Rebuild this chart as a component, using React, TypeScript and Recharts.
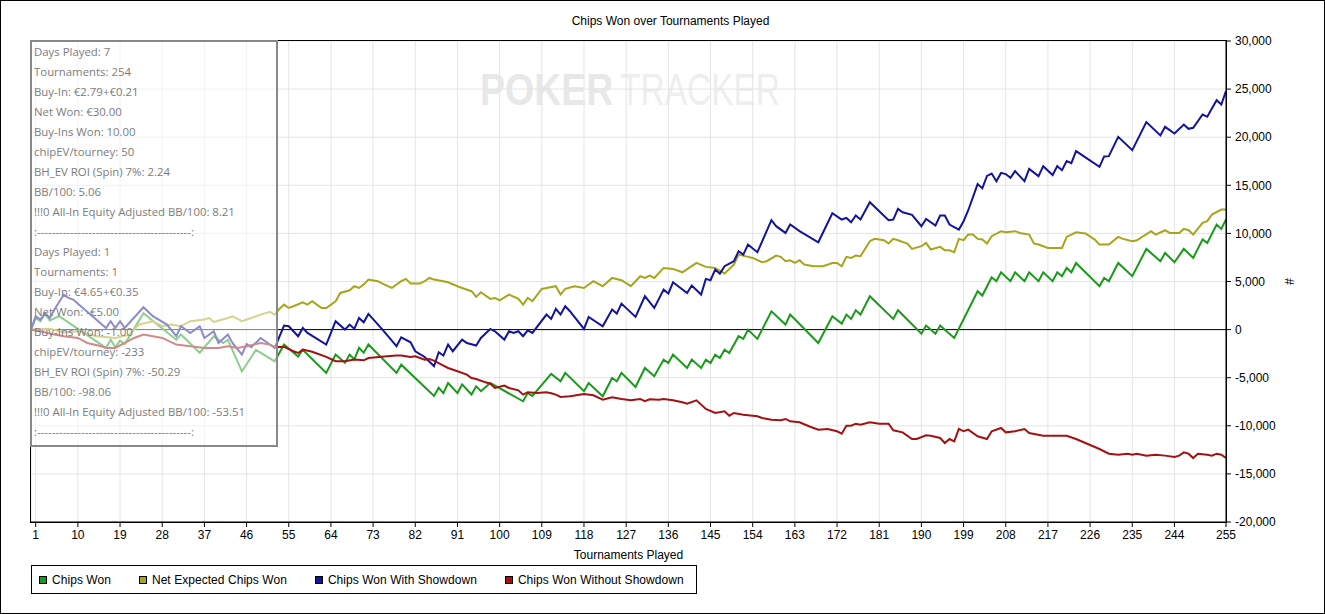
import React from 'react';
import { LineChart, Line, XAxis, YAxis, CartesianGrid, ReferenceLine } from 'recharts';

// [tournament, chips] turning points
const chipsWon: [number, number][] = [
  [0, 0], [1, 1200], [2, 850], [3, 1650], [4, 950], [6, 1400], [16, -1900], [17, -1050], [18, -1850],
  [19, -1150], [20, -1500], [24, 1700], [31, -1050], [32, -500], [36, -2400], [39, -700], [41, -1400],
  [42, -1050], [45, -4350], [48, -2100], [52, -3300], [54, -1550], [57, -2800], [58, -2100], [63, -4500],
  [65, -2600], [67, -3450], [68, -2600], [69, -3100], [70, -1900], [71, -2400], [72, -1550], [78, -4500],
  [79, -3650], [86, -6900], [87, -6050], [88, -6600], [89, -5550], [91, -6600], [92, -5700], [94, -6750],
  [95, -5900], [96, -6400], [98, -5550], [105, -7450], [106, -6600], [107, -6900], [111, -4600],
  [113, -5370], [114, -4500], [118, -6400], [119, -5550], [122, -6930], [124, -5030], [125, -5370],
  [126, -4500], [129, -5960], [131, -3990], [133, -4850], [135, -3120], [136, -3470], [137, -2600],
  [140, -3990], [141, -3120], [143, -3990], [144, -3120], [145, -3470], [146, -2600], [147, -2950],
  [148, -2080], [149, -2430], [151, -690], [152, -970], [153, 0], [155, -970], [158, 1900], [161, 520],
  [162, 1560], [168, -1390], [171, 1390], [173, 620], [174, 1560], [175, 1110], [176, 2010], [177, 1560],
  [179, 3470], [184, 1110], [185, 2010], [190, -420], [191, 420], [193, -420], [194, 420], [197, -870],
  [202, 3990], [203, 3540], [205, 5440], [206, 5030], [207, 5960], [209, 5030], [210, 5960], [212, 5030],
  [213, 5960], [215, 5030], [216, 5960], [218, 5030], [219, 5960], [220, 5550], [221, 6410], [222, 5960],
  [223, 6930], [228, 4510], [229, 5370], [230, 5030], [232, 6930], [235, 5550], [238, 8390], [241, 7110],
  [242, 7970], [244, 7000], [246, 8390], [248, 7450], [250, 9360], [251, 9010], [253, 10920],
  [254, 10470], [255, 11440],
];

const netExpected: [number, number][] = [
  [0, 0], [4, 100], [7, -300], [10, -170], [14, -690], [18, -870], [21, -520], [23, 520], [26, 870],
  [28, 350], [30, 520], [32, 350], [34, 870], [37, 1040], [38, 1210], [39, 800], [42, 1210], [43, 1390],
  [45, 870], [47, 1210], [49, 1560], [51, 1850], [52, 1560], [53, 2150], [54, 2600], [55, 2250],
  [56, 2430], [58, 2840], [59, 2600], [60, 2950], [61, 2600], [62, 2250], [63, 2250], [65, 2950],
  [66, 3810], [68, 4090], [69, 4510], [70, 4330], [71, 4680], [72, 5200], [74, 5030], [75, 4780],
  [77, 4330], [79, 5030], [80, 5270], [81, 4780], [83, 4780], [84, 5030], [85, 5370], [86, 5200],
  [88, 5030], [89, 4920], [91, 4510], [92, 4330], [94, 3990], [95, 3400], [96, 3880], [98, 3190],
  [99, 3290], [100, 3050], [102, 3640], [104, 3190], [105, 2600], [106, 3290], [107, 2950], [109, 4230],
  [110, 4330], [112, 4510], [113, 3640], [114, 4230], [116, 4510], [118, 4330], [120, 5030], [122, 4510],
  [124, 5370], [126, 5130], [128, 4510], [130, 5550], [131, 5370], [132, 5620], [133, 5370], [135, 6410],
  [137, 6310], [139, 5960], [142, 6930], [144, 6520], [146, 6410], [148, 5820], [150, 6760], [151, 7800],
  [153, 7560], [154, 7450], [156, 7000], [157, 7110], [159, 7700], [160, 7560], [161, 7110], [162, 7210],
  [163, 6930], [164, 7210], [165, 6760], [167, 6590], [169, 6590], [171, 6930], [172, 6930], [173, 6590],
  [174, 7560], [175, 7450], [176, 7700], [177, 7630], [179, 9190], [180, 9430], [182, 9290], [183, 8950],
  [184, 9430], [185, 9290], [187, 8950], [188, 8390], [190, 8670], [191, 9010], [192, 8320], [194, 8600],
  [195, 8250], [196, 8250], [197, 8040], [198, 9430], [199, 9290], [200, 9880], [201, 9880], [202, 9430],
  [203, 9360], [204, 8950], [205, 9710], [207, 10230], [208, 10120], [210, 10230], [211, 10050],
  [213, 9880], [214, 8950], [215, 8840], [217, 8490], [220, 8490], [221, 9640], [223, 10120], [225, 9990],
  [227, 9360], [228, 8840], [230, 8840], [232, 9640], [233, 9430], [235, 9190], [236, 9290], [239, 10230],
  [240, 9880], [242, 10330], [243, 10050], [245, 10050], [246, 10470], [247, 10330], [248, 9880],
  [250, 11090], [251, 11270], [252, 11960], [254, 12480], [255, 12480],
];

const withShowdown: [number, number][] = [
  [0, 0], [1, 1390], [2, 1040], [3, 1730], [4, 1210], [5, 2080], [7, 3640], [8, 3290], [9, 3120],
  [16, 170], [17, 870], [18, 170], [19, 870], [20, 170], [24, 2320], [26, 1390], [29, 520], [31, -690],
  [32, 350], [34, -350], [36, 350], [37, -870], [39, -170], [40, -1390], [42, -520], [43, -1390],
  [45, -2600], [46, -1490], [47, -1840], [49, -870], [50, -1210], [52, -1910], [54, 420], [55, 350],
  [57, -690], [58, 170], [59, -350], [63, -1560], [65, 870], [67, 0], [68, 520], [69, 70], [70, 1210],
  [71, 760], [72, 1630], [75, 0], [78, -1730], [79, -800], [81, -1320], [82, -2250], [84, -2840],
  [86, -3810], [87, -2360], [88, -2700], [89, -1560], [90, -2250], [92, -1040], [93, -1390], [95, -1660],
  [96, -870], [98, 70], [99, -170], [101, -1040], [102, -170], [103, -350], [104, -170], [105, -690],
  [106, -70], [107, -350], [110, 1560], [111, 1110], [112, 2150], [113, 1560], [114, 2430], [115, 1910],
  [118, 70], [119, 1320], [122, 350], [124, 2080], [125, 1660], [126, 2700], [129, 1320], [131, 3470],
  [133, 2250], [135, 4160], [136, 3740], [137, 4920], [140, 3810], [141, 4580], [143, 3640], [144, 5270],
  [145, 5130], [146, 6240], [147, 5820], [148, 6590], [150, 7110], [151, 8150], [152, 7800], [153, 8840],
  [155, 8040], [158, 11370], [159, 10750], [161, 10050], [162, 10920], [164, 10230], [168, 9080],
  [171, 12100], [173, 11440], [174, 11610], [175, 11160], [176, 11860], [177, 11440], [179, 13240],
  [183, 11370], [184, 11440], [185, 12550], [186, 12200], [188, 11930], [190, 10750], [191, 11510],
  [193, 10820], [194, 11860], [195, 11860], [196, 10920], [198, 10400], [199, 11270], [200, 12410],
  [202, 15130], [203, 14680], [204, 15980], [205, 16220], [206, 15430], [207, 16290], [208, 16170],
  [209, 15770], [210, 16470], [212, 15430], [213, 16710], [215, 15950], [216, 16990], [218, 16070],
  [219, 16990], [220, 16570], [221, 17510], [222, 17300], [223, 18550], [228, 16920], [229, 18000],
  [230, 18030], [232, 20040], [235, 18650], [238, 21570], [241, 20180], [242, 21080], [244, 20390],
  [246, 21320], [247, 20870], [248, 20980], [250, 22360], [251, 22120], [253, 23850], [254, 23400],
  [255, 24790],
];

const withoutShowdown: [number, number][] = [
  [0, 0], [2, -170], [5, -520], [7, -690], [10, -870], [12, -1390], [15, -1730], [16, -1910], [18, -1910],
  [20, -1390], [22, -870], [24, -520], [26, -690], [28, -870], [31, -1560], [34, -1730], [37, -1910],
  [40, -1910], [42, -1730], [44, -1910], [46, -1730], [49, -1390], [51, -1560], [52, -1800], [54, -1800],
  [56, -2250], [57, -2430], [58, -2080], [60, -2300], [63, -2840], [65, -3290], [67, -3290], [69, -3120],
  [71, -3190], [72, -2950], [76, -2770], [78, -2700], [79, -2700], [81, -2840], [82, -2770], [84, -3120],
  [85, -3050], [86, -3220], [88, -3740], [89, -3990], [91, -4330], [93, -4680], [94, -5030], [95, -5130],
  [97, -5480], [98, -5620], [99, -6070], [101, -5820], [102, -6070], [104, -6310], [105, -6760],
  [106, -6520], [108, -6590], [110, -6520], [111, -6620], [112, -6760], [113, -7000], [115, -6930],
  [116, -6860], [118, -6690], [120, -6830], [122, -7280], [124, -7040], [126, -7210], [128, -7350],
  [130, -7210], [131, -7450], [132, -7250], [134, -7280], [135, -7210], [137, -7350], [139, -7560],
  [140, -7700], [142, -7350], [144, -8250], [146, -8670], [148, -8490], [149, -8950], [150, -8670],
  [152, -8840], [155, -9010], [156, -9190], [158, -9360], [160, -9430], [161, -9290], [162, -9530],
  [164, -9640], [166, -10050], [168, -10400], [170, -10330], [172, -10570], [173, -10820], [174, -10000],
  [175, -9990], [176, -9780], [177, -9880], [179, -9640], [181, -9780], [183, -9780], [184, -10470],
  [186, -10680], [188, -11370], [189, -11370], [191, -10990], [192, -11030], [194, -11270], [195, -11790],
  [196, -11370], [197, -11610], [198, -10330], [199, -10570], [200, -10400], [202, -11090], [204, -11370],
  [205, -10570], [207, -10230], [208, -10680], [210, -10570], [212, -10330], [213, -10750], [216, -11030],
  [221, -11030], [223, -11370], [225, -11790], [228, -12410], [230, -12900], [232, -13000], [234, -12900],
  [235, -13000], [236, -12900], [238, -13100], [240, -13000], [242, -13100], [244, -13240], [245, -13100],
  [246, -12760], [247, -12900], [248, -13350], [249, -12900], [251, -13000], [252, -13100], [253, -12900],
  [254, -13000], [255, -13350],
];

const xTicks = [1, 10, 19, 28, 37, 46, 55, 64, 73, 82, 91, 100, 109, 118, 127, 136, 145, 154, 163, 172,
  181, 190, 199, 208, 217, 226, 235, 244, 255];
const yTicks = [-20000, -15000, -10000, -5000, 0, 5000, 10000, 15000, 20000, 25000, 30000];

const series = [
  { name: 'Chips Won', color: '#1a9a1a', points: chipsWon },
  { name: 'Net Expected Chips Won', color: '#a6a61c', points: netExpected },
  { name: 'Chips Won With Showdown', color: '#14149a', points: withShowdown },
  { name: 'Chips Won Without Showdown', color: '#a31212', points: withoutShowdown },
];

const SEP = ':' + '-'.repeat(42) + ':';
const statsLines = [
  'Days Played: 7', 'Tournaments: 254', 'Buy-In: €2.79+€0.21', 'Net Won: €30.00', 'Buy-Ins Won: 10.00',
  'chipEV/tourney: 50', 'BH_EV ROI (Spin) 7%: 2.24', 'BB/100: 5.06', '!!!0 All-In Equity Adjusted BB/100: 8.21',
  SEP,
  'Days Played: 1', 'Tournaments: 1', 'Buy-In: €4.65+€0.35', 'Net Won: -€5.00', 'Buy-Ins Won: -1.00',
  'chipEV/tourney: -233', 'BH_EV ROI (Spin) 7%: -50.29', 'BB/100: -98.06',
  '!!!0 All-In Equity Adjusted BB/100: -53.51',
  SEP,
];

const FONT = '"Liberation Sans", Arial, sans-serif';

export default function App() {
  return (
    <div style={{ position: 'absolute', left: 0, top: 0, width: 1325, height: 614, background: '#fff', fontFamily: FONT }}>
      {/* watermark, squeezed vertically-stretched so the natural glyph widths fit */}
      <svg width={1325} height={614} style={{ position: 'absolute', left: 0, top: 0 }}>
        <text transform="translate(480,105) scale(1,1.2)" fontSize={37.5} fontWeight="bold" fill="#e8e8e8" fontFamily={FONT}>POKER</text>
        <text transform="translate(620,105) scale(1,1.34)" fontSize={33.5} fill="#eeeeee" fontFamily={FONT}>TRACKER</text>
      </svg>

      <div style={{ position: 'absolute', left: 0, top: 0 }}>
        <LineChart width={1325} height={614} margin={{ top: 41, right: 0, left: 31, bottom: 55 }} style={{ fontFamily: FONT }}>
          <CartesianGrid stroke="#e4e4e4" />
          <XAxis
            type="number"
            dataKey="t"
            domain={[0, 255]}
            ticks={xTicks}
            interval={0}
            height={37}
            stroke="#000"
            tick={{ fill: '#000', fontSize: 12 }}
            tickSize={5}
            tickMargin={3}
            label={{ value: 'Tournaments Played', position: 'insideBottom', offset: 0, fill: '#000', fontSize: 12 }}
          />
          <YAxis
            orientation="right"
            type="number"
            dataKey="v"
            domain={[-20000, 30000]}
            ticks={yTicks}
            interval={0}
            width={99}
            stroke="#000"
            tick={{ fill: '#000', fontSize: 12 }}
            tickSize={5}
            tickMargin={4}
            tickFormatter={(v: number) => v.toLocaleString('en-US')}
            label={{
              content: (p: any) => {
                const vb = p.viewBox || {};
                const cx = vb.x + 63;
                const cy = vb.y + vb.height / 2;
                return (
                  <text x={cx} y={cy} fontSize={12} textAnchor="middle" dominantBaseline="central" transform={`rotate(90 ${cx} ${cy})`}>#</text>
                );
              },
            }}
          />
          <ReferenceLine y={0} stroke="#000" strokeWidth={1} ifOverflow="visible" />
          {series.map((s) => (
            <Line
              key={s.name}
              data={s.points.map(([t, v]) => ({ t, v }))}
              dataKey="v"
              name={s.name}
              type="linear"
              stroke={s.color}
              strokeWidth={2}
              dot={false}
              isAnimationActive={false}
            />
          ))}
        </LineChart>
      </div>

      {/* plot frame */}
      <div style={{ position: 'absolute', left: 30, top: 40, width: 1197, height: 483, border: '1px solid #000', boxSizing: 'border-box', pointerEvents: 'none' }} />

      {/* title */}
      <div style={{ position: 'absolute', left: 0, top: 14, width: 1341, textAlign: 'center', fontSize: 12, color: '#000' }}>
        Chips Won over Tournaments Played
      </div>

      {/* stats box */}
      <div
        style={{
          position: 'absolute', left: 30, top: 40, width: 248, height: 407, boxSizing: 'border-box',
          border: '2px solid #888', background: 'rgba(255,255,255,0.5)', padding: '0 0 0 2px',
          fontFamily: '"Open Sans", "Noto Sans", sans-serif', fontSize: 11.4, lineHeight: '20px', color: '#7c7c7c',
          whiteSpace: 'nowrap', overflow: 'hidden',
        }}
      >
        {statsLines.map((l, i) => (
          <div key={i}>{l}</div>
        ))}
      </div>

      {/* legend */}
      <div
        style={{
          position: 'absolute', left: 31, top: 565, width: 666, height: 29, boxSizing: 'border-box',
          border: '1px solid #000', display: 'flex', alignItems: 'center', paddingLeft: 7, fontSize: 12,
          letterSpacing: 0.05,
        }}
      >
        {series.map((s, i) => (
          <div key={s.name} style={{ display: 'flex', alignItems: 'center', marginLeft: i === 0 ? 0 : 28 }}>
            <span style={{ display: 'inline-block', width: 8, height: 8, boxSizing: 'border-box', border: '1px solid #000', background: s.color, marginRight: 5 }} />
            <span>{s.name}</span>
          </div>
        ))}
      </div>

      {/* outer frame */}
      <div style={{ position: 'absolute', left: 0, top: 0, width: 1325, height: 614, border: '1px solid #000', boxSizing: 'border-box', pointerEvents: 'none' }} />
    </div>
  );
}
